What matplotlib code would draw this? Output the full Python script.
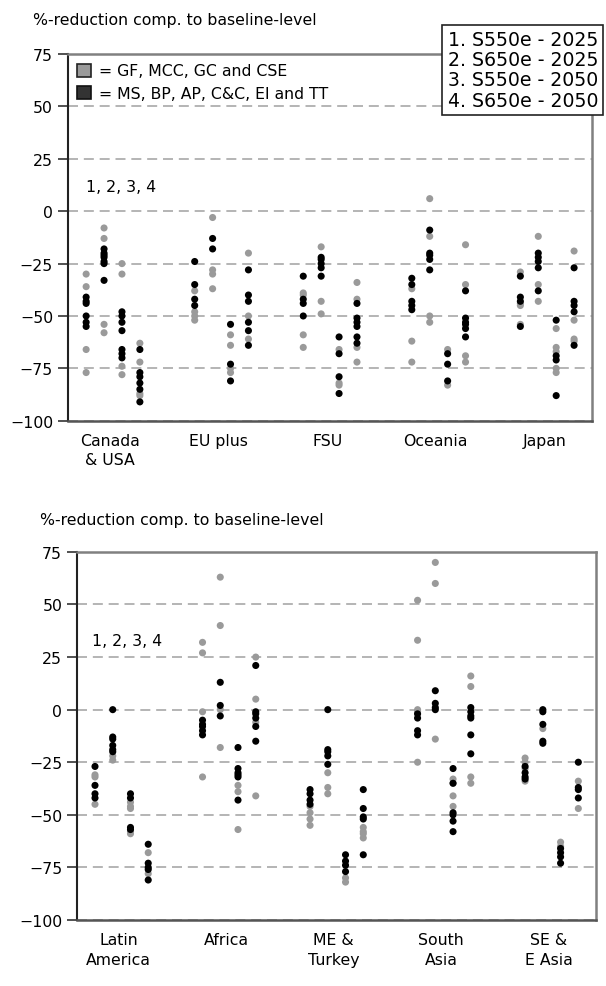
import matplotlib
matplotlib.use("Agg")
import matplotlib.pyplot as plt
from matplotlib.patches import Patch

plt.rcParams['font.family'] = ['DejaVu Sans']
plt.rcParams['font.size'] = 11.3

# four scenarios per region, left to right
scenarios = ["1. S550e - 2025", "2. S650e - 2025", "3. S550e - 2050", "4. S650e - 2050"]
top_regions = ["Canada\n& USA", "EU plus", "FSU", "Oceania", "Japan"]
bottom_regions = ["Latin\nAmerica", "Africa", "ME &\nTurkey", "South\nAsia", "SE &\nE Asia"]

# gray = GF, MCC, GC and CSE ; black = MS, BP, AP, C&C, EI and TT
canada_gray = [[-30, -36, -66, -77], [-8, -13, -54, -58], [-25, -30, -74, -78], [-63, -72, -87, -88]]
canada_black = [[-41, -43, -44, -50, -53, -55], [-18, -20, -21, -22, -24, -25, -33],
                [-48, -50, -53, -57, -66, -68, -70], [-66, -77, -79, -82, -85, -91]]
eu_gray = [[-38, -48, -50, -52], [-3, -28, -30, -37], [-59, -64, -75, -77], [-20, -50, -61]]
eu_black = [[-24, -35, -42, -45], [-13, -18], [-54, -73, -81], [-28, -40, -43, -53, -57, -64]]
fsu_gray = [[-39, -40, -59, -65], [-17, -43, -49], [-66, -82, -83], [-34, -42, -65, -72]]
fsu_black = [[-31, -42, -44, -50], [-22, -23, -25, -27, -31], [-60, -68, -79, -87],
             [-44, -51, -53, -55, -60, -63]]
oceania_gray = [[-37, -62, -72], [6, -12, -50, -53], [-66, -83], [-16, -35, -69, -72]]
oceania_black = [[-32, -35, -43, -45, -47], [-9, -20, -21, -23, -28], [-68, -73, -81],
                 [-38, -51, -53, -54, -56, -60]]
japan_gray = [[-29, -44, -45, -54], [-12, -35, -43], [-56, -65, -67, -75, -77], [-19, -52, -61, -62]]
japan_black = [[-31, -41, -43, -55], [-20, -22, -24, -27, -38], [-52, -69, -71, -88],
               [-27, -43, -45, -48, -64]]

latin_gray = [[-31, -32, -45], [-22, -24], [-44, -46, -47, -58, -59], [-68, -78]]
latin_black = [[-27, -36, -40, -42], [0, -13, -14, -17, -19, -20], [-40, -42, -56, -57],
               [-64, -73, -75, -76, -81]]
africa_gray = [[32, 27, -1, -32], [63, 40, 0, -18], [-36, -39, -57], [25, 5, -6, -41]]
africa_black = [[-5, -7, -8, -10, -12], [13, 2, -3], [-18, -28, -30, -31, -32, -43],
                [21, -1, -2, -4, -8, -15]]
me_gray = [[-46, -49, -52, -55], [-30, -37, -40], [-80, -82], [-56, -58, -59, -61]]
me_black = [[-38, -40, -43, -45], [0, -19, -20, -22, -26], [-69, -72, -74, -77],
            [-38, -47, -51, -52, -69]]
sasia_gray = [[52, 33, 0, -1, -25], [70, 60, -14], [-33, -35, -41, -46], [16, 11, -32, -35]]
sasia_black = [[-2, -4, -10, -12], [9, 3, 1, 0], [-28, -35, -49, -50, -53, -58],
               [1, -1, -3, -4, -12, -21]]
seasia_gray = [[-23, -25, -28, -34], [-9], [-63, -65], [-34, -47]]
seasia_black = [[-27, -30, -32, -33], [0, -1, -7, -15, -16], [-66, -68, -70, -73],
                [-25, -37, -38, -42]]

top_gray = [canada_gray, eu_gray, fsu_gray, oceania_gray, japan_gray]
top_black = [canada_black, eu_black, fsu_black, oceania_black, japan_black]
bottom_gray = [latin_gray, africa_gray, me_gray, sasia_gray, seasia_gray]
bottom_black = [latin_black, africa_black, me_black, sasia_black, seasia_black]

offsets = [-0.22, -0.055, 0.11, 0.275]
GRAY = '#9a9a9a'


def draw_panel(ax, regions, grays, blacks):
    for colour, groups in ((GRAY, grays), ('black', blacks)):
        for i, region in enumerate(groups):
            for s, vals in enumerate(region):
                ax.scatter([i + offsets[s]] * len(vals), vals, s=26, color=colour,
                           edgecolors='none', zorder=3)
    ax.set_xlim(-0.39, 4.44)
    ax.set_ylim(-100, 75)
    ax.set_yticks(range(-100, 76, 25))
    ax.set_xticks(range(len(regions)))
    ax.set_xticklabels(regions, linespacing=1.35)
    ax.tick_params(axis='x', length=0, pad=9)
    ax.tick_params(axis='y', length=7.5, width=1.2, color='#333333', pad=3)
    ax.yaxis.grid(True, linestyle=(0, (6, 3.5)), color='#a8a8a8', lw=1.2)
    ax.set_axisbelow(True)
    for side in ('top', 'right'):
        ax.spines[side].set_color('#808080')
        ax.spines[side].set_linewidth(1.8)
    ax.spines['bottom'].set_color('#555555')
    ax.spines['bottom'].set_linewidth(1.8)
    ax.spines['left'].set_color('#222222')
    ax.spines['left'].set_linewidth(1.5)


fig = plt.figure(figsize=(6.06, 9.87), dpi=100)
ax_top = fig.add_axes([0.1117, 0.5727, 0.8652, 0.3715])
ax_bot = fig.add_axes([0.1266, 0.0669, 0.857, 0.3729])

draw_panel(ax_top, top_regions, top_gray, top_black)
draw_panel(ax_bot, bottom_regions, bottom_gray, bottom_black)

ax_top.text(0.1, 12, "1, 2, 3, 4", ha='center', va='center')
ax_bot.text(0.08, 33, "1, 2, 3, 4", ha='center', va='center')

fig.text(33 / 606, 1 - 20 / 987, "%-reduction comp. to baseline-level", ha='left', va='center')
fig.text(40 / 606, 1 - 520 / 987, "%-reduction comp. to baseline-level", ha='left', va='center')

handles = [Patch(facecolor=GRAY, edgecolor='#222222', lw=1.2),
           Patch(facecolor='#333333', edgecolor='#111111', lw=1.2)]
ax_top.legend(handles, ["= GF, MCC, GC and CSE", "= MS, BP, AP, C&C, EI and TT"],
              loc='upper left', bbox_to_anchor=(0.0, 1.0), frameon=False,
              handlelength=0.9, handleheight=0.9, handletextpad=0.5,
              labelspacing=0.45, borderaxespad=0.3, borderpad=0.3)

fig.text(598 / 606, 1 - 31 / 987, "\n".join(scenarios), ha='right', va='top',
         fontsize=13.6, linespacing=1.08,
         bbox=dict(facecolor='white', edgecolor='#222222', lw=1.2, pad=4))

fig.savefig("out.png", dpi=100)
